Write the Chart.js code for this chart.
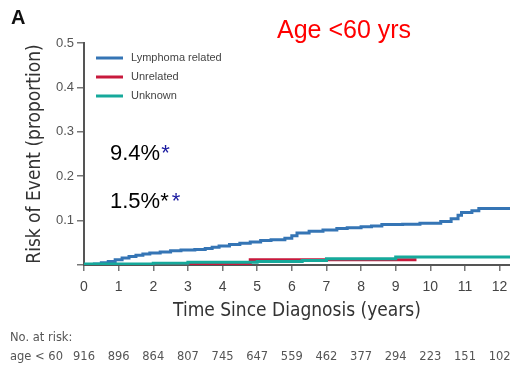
<!DOCTYPE html>
<html>
<head>
<meta charset="utf-8">
<script src="https://cdn.jsdelivr.net/npm/chart.js@4/dist/chart.umd.min.js"></script>
<style>
html,body{margin:0;padding:0;background:#fff;}
canvas{display:block;}
</style>
</head>
<body>
<canvas id="c" width="510" height="367"></canvas>
<script>
// ---- data ----
const xTicks = [0,1,2,3,4,5,6,7,8,9,10,11,12];
const yTicks = [0,0.1,0.2,0.3,0.4,0.5];
const atRisk = [916,896,864,807,745,647,559,462,377,294,223,151,102];

const lymphomaT = [0,0.3,0.5,0.7,0.9,1.1,1.3,1.5,1.7,1.9,2.2,2.5,2.8,3.2,3.5,3.7,3.9,4.2,4.5,4.8,5.1,5.4,5.8,6.0,6.15,6.5,6.9,7.3,7.6,8.0,8.3,8.6,9.2,9.7,10.3,10.6,10.8,10.9,11.2,11.4,12.3];
const lymphomaV = [0,0.002,0.005,0.008,0.012,0.016,0.019,0.022,0.025,0.027,0.029,0.032,0.034,0.035,0.037,0.040,0.043,0.046,0.049,0.052,0.055,0.057,0.060,0.066,0.072,0.076,0.079,0.082,0.084,0.086,0.088,0.091,0.092,0.094,0.098,0.104,0.112,0.118,0.122,0.127,0.127];
const unrelatedT = [0,2.5,4.8,9.6];
const unrelatedV = [0,0.003,0.012,0.012];
const unknownT = [0,2.0,3.0,5.0,6.3,7.0,9.0,12.3];
const unknownV = [0.002,0.004,0.006,0.008,0.010,0.014,0.018,0.018];

const seriesNames = ['Lymphoma related','Unrelated','Unknown'];
const seriesColors = ['#3575b5','#c8193c','#16a99b'];

function pts(t,v){ return t.map((x,i)=>({x:x,y:v[i]})); }

const narrow = "'Liberation Sans Narrow','DejaVu Sans Condensed',sans-serif";

const extras = {
  id:'extras',
  afterDraw(chart){
    const ctx = chart.ctx;
    const xs = chart.scales.x;
    ctx.save();
    // panel letter
    ctx.fillStyle='#111';
    ctx.font="bold 20px 'Liberation Sans',sans-serif";
    ctx.textBaseline='alphabetic';
    ctx.textAlign='left';
    ctx.fillText('A',11,24);
    // red title
    ctx.fillStyle='#ff0000';
    ctx.font="25px 'Liberation Sans',sans-serif";
    ctx.fillText('Age <60 yrs',277,38);
    // annotations
    ctx.font="22px 'Liberation Sans',sans-serif";
    ctx.fillStyle='#000';
    ctx.fillText('9.4%',110,160);
    let w = ctx.measureText('9.4%').width;
    ctx.fillStyle='#1a1aa0';
    ctx.fillText('*',110+w+1,160);
    ctx.fillStyle='#000';
    ctx.fillText('1.5%*',110,208);
    w = ctx.measureText('1.5%*').width;
    ctx.fillStyle='#1a1aa0';
    ctx.fillText('*',110+w+3,208);
    // legend
    const ly=[58,77,96];
    ctx.font="11px 'Liberation Sans',sans-serif";
    ctx.textBaseline='middle';
    for(let i=0;i<3;i++){
      ctx.strokeStyle=seriesColors[i];
      ctx.lineWidth=3;
      ctx.beginPath();ctx.moveTo(96,ly[i]);ctx.lineTo(123,ly[i]);ctx.stroke();
      ctx.fillStyle='#444';
      ctx.fillText(seriesNames[i],131,ly[i]);
    }
    // at risk table
    ctx.font="11.5px 'DejaVu Sans',sans-serif";
    ctx.fillStyle='#555';
    ctx.textAlign='left';
    ctx.fillText('No. at risk:',10,338);
    ctx.fillText('age < 60',10,357);
    ctx.textAlign='center';
    for(let i=0;i<xTicks.length;i++){
      ctx.fillText(String(atRisk[i]), xs.getPixelForValue(xTicks[i]), 357);
    }
    ctx.restore();
  }
};

new Chart(document.getElementById('c'),{
  type:'line',
  data:{datasets:[
    {label:seriesNames[0],data:pts(lymphomaT,lymphomaV),borderColor:seriesColors[0],borderWidth:3,stepped:true,pointRadius:0,fill:false,order:2},
    {label:seriesNames[1],data:pts(unrelatedT,unrelatedV),borderColor:seriesColors[1],borderWidth:3,stepped:true,pointRadius:0,fill:false,order:1},
    {label:seriesNames[2],data:pts(unknownT,unknownV),borderColor:seriesColors[2],borderWidth:3,stepped:true,pointRadius:0,fill:false,order:0}
  ]},
  options:{
    responsive:false,animation:false,
    layout:{padding:{left:24,top:43,right:0,bottom:45}},
    plugins:{legend:{display:false},tooltip:{enabled:false}},
    scales:{
      x:{type:'linear',min:0,max:12.3,
        afterBuildTicks(s){ s.ticks = xTicks.map(v=>({value:v})); },
        afterFit(s){ s.height=57; s.paddingLeft=0; s.paddingRight=0; },
        grid:{drawOnChartArea:false,drawTicks:true,tickLength:6,color:'#777',lineWidth:1.5},
        border:{display:true,color:'#555',width:2},
        ticks:{color:'#444',font:{size:14,family:"'Liberation Sans',sans-serif"},padding:8,maxRotation:0,autoSkip:false},
        title:{display:true,text:'Time Since Diagnosis (years)',color:'#333',font:{size:19,family:narrow},padding:0}
      },
      y:{type:'linear',min:0,max:0.5,
        afterBuildTicks(s){ s.ticks = yTicks.map(v=>({value:v})); },
        afterFit(s){ s.width=60; s.paddingTop=0; s.paddingBottom=0; },
        grid:{drawOnChartArea:false,drawTicks:true,tickLength:7,color:'#777',lineWidth:1.5},
        border:{display:true,color:'#555',width:2},
        ticks:{color:'#555',font:{size:13,family:"'Liberation Sans',sans-serif"},padding:3,
          callback:(v)=> v===0 ? '' : v.toFixed(1)},
        title:{display:true,text:'Risk of Event (proportion)',color:'#333',font:{size:19,family:narrow},padding:0}
      }
    }
  },
  plugins:[extras]
});
</script>
</body>
</html>
